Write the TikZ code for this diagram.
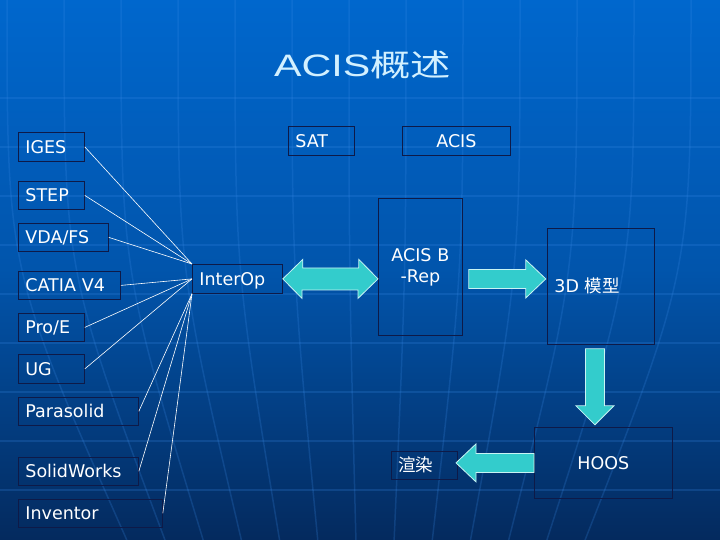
\documentclass[tikz,border=0pt]{standalone}
\usepackage{fontspec}
\setmainfont{DejaVu Sans}
\newfontfamily\cjk{Noto Sans CJK SC}
\newfontfamily\titlefont[FakeStretch=1.33]{Liberation Sans}
\newfontfamily\titlecjk[FakeStretch=1.3]{Noto Sans CJK SC}
\newcommand\boxtextsize{\fontsize{17.5}{21}\selectfont}

\begin{document}
\begin{tikzpicture}[x=1pt, y=-1pt,
    frame/.style={draw=boxLine, line width=0.8pt, text=white, font=\boxtextsize,
        inner xsep=7pt, inner ysep=0pt, anchor=north west},
    box/.style={frame, text height=12.8pt, text depth=0pt, align=left},
    fanLine/.style={draw=white, line width=0.6pt},
    fatArrow/.style={fill=arrowFill, draw=arrowLine, line width=0.8pt, line join=miter},
    gridLine/.style={draw=gridColour, opacity=0.22}]
    % Define colours
    \definecolor{bgTop}{HTML}{0067CD}
    \definecolor{bgBottom}{HTML}{042A5E}
    \definecolor{boxLine}{HTML}{0E1A48}
    \definecolor{arrowFill}{HTML}{33CCCC}
    \definecolor{arrowLine}{HTML}{C8F4F4}
    \definecolor{gridColour}{HTML}{3A8BE8}
    \definecolor{titleColour}{HTML}{D2F0FF}

    % Draw background
    \useasboundingbox (0,0) rectangle (720,540);
    \shade[top color=bgTop, bottom color=bgBottom, middle color=bgTop!70!bgBottom] (0,0) rectangle (720,540);
    \foreach \y in {98,147,...,490}
        \draw[gridLine, line width=1.2pt] (0,\y) -- (720,\y);
    \foreach \x in {7,64,...,691}
        \draw[gridLine, line width=1.5pt] (\x,0) .. controls (\x,270) .. ({\x+(370-\x)*0.33},540);

    % Title
    \node[anchor=base, text=titleColour, font=\fontsize{31}{36}\selectfont] (title) at (362.5,77)
        {\titlefont ACIS\titlecjk 概述};

    % Draw the CAD formats
    \node[box, text width=52pt, minimum height=29pt] (iges) at (18,132) {IGES};
    \node[box, text width=52pt, minimum height=28pt] (step) at (18,181) {STEP};
    \node[box, text width=76pt, minimum height=28pt] (vdafs) at (18,223) {VDA/FS};
    \node[box, text width=88pt, minimum height=28pt] (catia) at (18,271) {CATIA V4};
    \node[box, text width=52pt, minimum height=28pt] (proe) at (18,313) {Pro/E};
    \node[box, text width=52pt, minimum height=29pt] (ug) at (18,354) {UG};
    \node[box, text width=106pt, minimum height=28pt] (parasolid) at (18,397) {Parasolid};
    \node[box, text width=106pt, minimum height=28pt] (solidworks) at (18,457) {SolidWorks};
    \node[box, text width=130pt, minimum height=28pt] (inventor) at (18,499) {Inventor};

    % Draw the ACIS side
    \node[box, text width=76pt, minimum height=29pt] (interop) at (192,264) {InterOp};
    \node[box, text width=52pt, minimum height=29pt] (sat) at (288,126) {SAT};
    \node[box, text width=94pt, minimum height=29pt, align=center] (acis) at (402,126) {ACIS};
    \node[frame, text width=70pt, minimum height=137pt, align=center] (brep) at (378,198) {ACIS B\\-Rep};
    \node[box, text width=93pt, minimum height=116pt] (model) at (547,228) {3D {\cjk 模型}};
    \node[box, text width=124pt, minimum height=71pt, align=center] (hoos) at (534,427) {HOOS};
    \node[box, text width=52pt, minimum height=28pt] (render) at (391,451) {{\cjk 渲染}};

    % Connect the formats to InterOp
    \foreach \src in {iges,step,vdafs}
        \draw[fanLine] (\src.east) -- (interop.north west);
    \foreach \src in {catia,proe,ug}
        \draw[fanLine] (\src.east) -- (interop.west);
    \foreach \src in {parasolid,solidworks,inventor}
        \draw[fanLine] (\src.east) -- (interop.south west);

    % Draw the block arrows
    \draw[fatArrow] (interop.east) -- ++(20,-19.5) -- ++(0,8.5) -- ++(56,0) -- ++(0,-8.5)
        -- (brep.west |- interop.east) -- ++(-20,19.5) -- ++(0,-8.5) -- ++(-56,0) -- ++(0,8.5) -- cycle;
    \draw[fatArrow] (brep.east |- interop.east) ++(6,-9.5) -- ++(57,0) -- ++(0,-9.5)
        -- ++(20,19) -- ++(-20,19) -- ++(0,-9.5) -- ++(-57,0) -- cycle;
    \draw[fatArrow] (model.south) ++(-15.5,4) -- ++(0,57) -- ++(-9.5,0)
        -- ++(19,19) -- ++(19,-19) -- ++(-9.5,0) -- ++(0,-57) -- cycle;
    \draw[fatArrow] (hoos.west) ++(0,-9.5) -- ++(-58,0) -- ++(0,-9.5)
        -- ++(-20,19) -- ++(20,19) -- ++(0,-9.5) -- ++(58,0) -- cycle;
\end{tikzpicture}
\end{document}
